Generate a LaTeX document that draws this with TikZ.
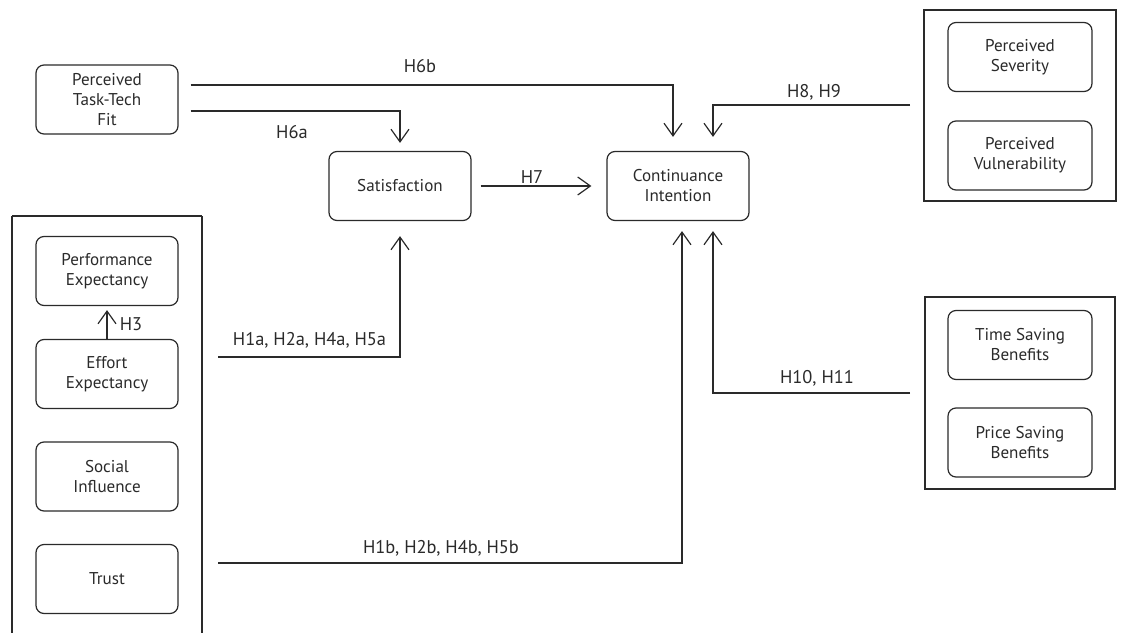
\documentclass[tikz,border=0pt]{standalone}
\usepackage{fontspec}
\setmainfont{PT Sans}
\usetikzlibrary{arrows.meta,calc}
\definecolor{ink}{HTML}{2A2A2A}
\tikzset{
  box/.style={draw=ink, line width=0.9pt, rounded corners=6pt, align=center,
    text=ink, font=\fontsize{12.8}{15}\selectfont, inner sep=0pt},
  boxL/.style={box, minimum width=142*0.75pt, minimum height=69*0.75pt},
  boxR/.style={box, minimum width=144*0.75pt, minimum height=69*0.75pt},
  group/.style={draw=ink, line width=0.9pt},
  arr/.style={draw=ink, line width=0.9pt,
    -{Straight Barb[length=9.5pt,width=13.5pt,line width=0.9pt]}},
  hyp/.style={text=ink, font=\fontsize{13.8}{15}\selectfont, anchor=base, inner sep=0pt}
}
\begin{document}
\begin{tikzpicture}[x=0.75pt,y=-0.75pt]
\useasboundingbox (0,0) rectangle (1121,632);

% groups of exogenous constructs
\draw[group] (12,216) -- (12,640);
\draw[group] (202,216) -- (202,640);
\draw[group] (12,216) -- (202,216);
\draw[group] (924,10) rectangle (1116,201);
\draw[group] (925,297) rectangle (1115,489);

% constructs
\node[boxL] (pttf) at (107,99.5) {Perceived\\Task-Tech\\Fit};
\node[boxL] (sat)  at (400,186) {Satisfaction};
\node[boxL] (ci)   at (678,186) {Continuance\\Intention};
\node[boxR] (sev)  at (1020,57) {Perceived\\Severity};
\node[boxR] (vul)  at (1020,155.5) {Perceived\\Vulnerability};
\node[boxL] (pe)   at (107,271) {Performance\\Expectancy};
\node[boxL] (ee)   at (107,374) {Effort\\Expectancy};
\node[boxL] (si)   at (107,476.5) {Social\\Influence};
\node[boxL] (tr)   at (107,579) {Trust};
\node[boxR] (tsb)  at (1020,345) {Time Saving\\Benefits};
\node[boxR] (psb)  at (1020,442.5) {Price Saving\\Benefits};

% line ends that sit beside the groups
\coordinate (h6bs) at ($(pttf.east)+(12,-14.5)$);
\coordinate (h6as) at ($(pttf.east)+(12,11.5)$);
\coordinate (h8s)  at (910,105);
\coordinate (h1as) at (218,357);
\coordinate (h1bs) at (218,563);
\coordinate (h10s) at (910,393);

% paths
\draw[arr, shorten >=14*0.75pt] (h6bs) -| ([xshift=-5*0.75pt]ci.north);
\draw[arr, shorten >=8*0.75pt]  (h6as) -| (sat.north);
\draw[arr, shorten >=14*0.75pt] (h8s)  -| ([xshift=35*0.75pt]ci.north);
\draw[arr] ([xshift=9*0.75pt]sat.east) -- ([xshift=-15*0.75pt]ci.west);
\draw[arr, shorten >=15*0.75pt] (h1as) -| (sat.south);
\draw[arr, shorten >=10*0.75pt] (h1bs) -| ([xshift=4*0.75pt]ci.south);
\draw[arr, shorten >=10*0.75pt] (h10s) -| ([xshift=35*0.75pt]ci.south);
\draw[arr, shorten >=4*0.75pt] (ee.north) -- (pe.south);

% hypothesis labels
\node[hyp] (lh6b) at (420,72) {H6b};
\node[hyp] (lh6a) at (292,138) {H6a};
\node[hyp] (lh7)  at (532,183) {H7};
\node[hyp] (lh8)  at (814,97) {H8, H9};
\node[hyp] (lh3)  at (131,330) {H3};
\node[hyp] (lh1a) at (309.5,345) {H1a, H2a, H4a, H5a};
\node[hyp] (lh1b) at (441,553) {H1b, H2b, H4b, H5b};
\node[hyp] (lh10) at (817,383) {H10, H11};
\end{tikzpicture}
\end{document}
